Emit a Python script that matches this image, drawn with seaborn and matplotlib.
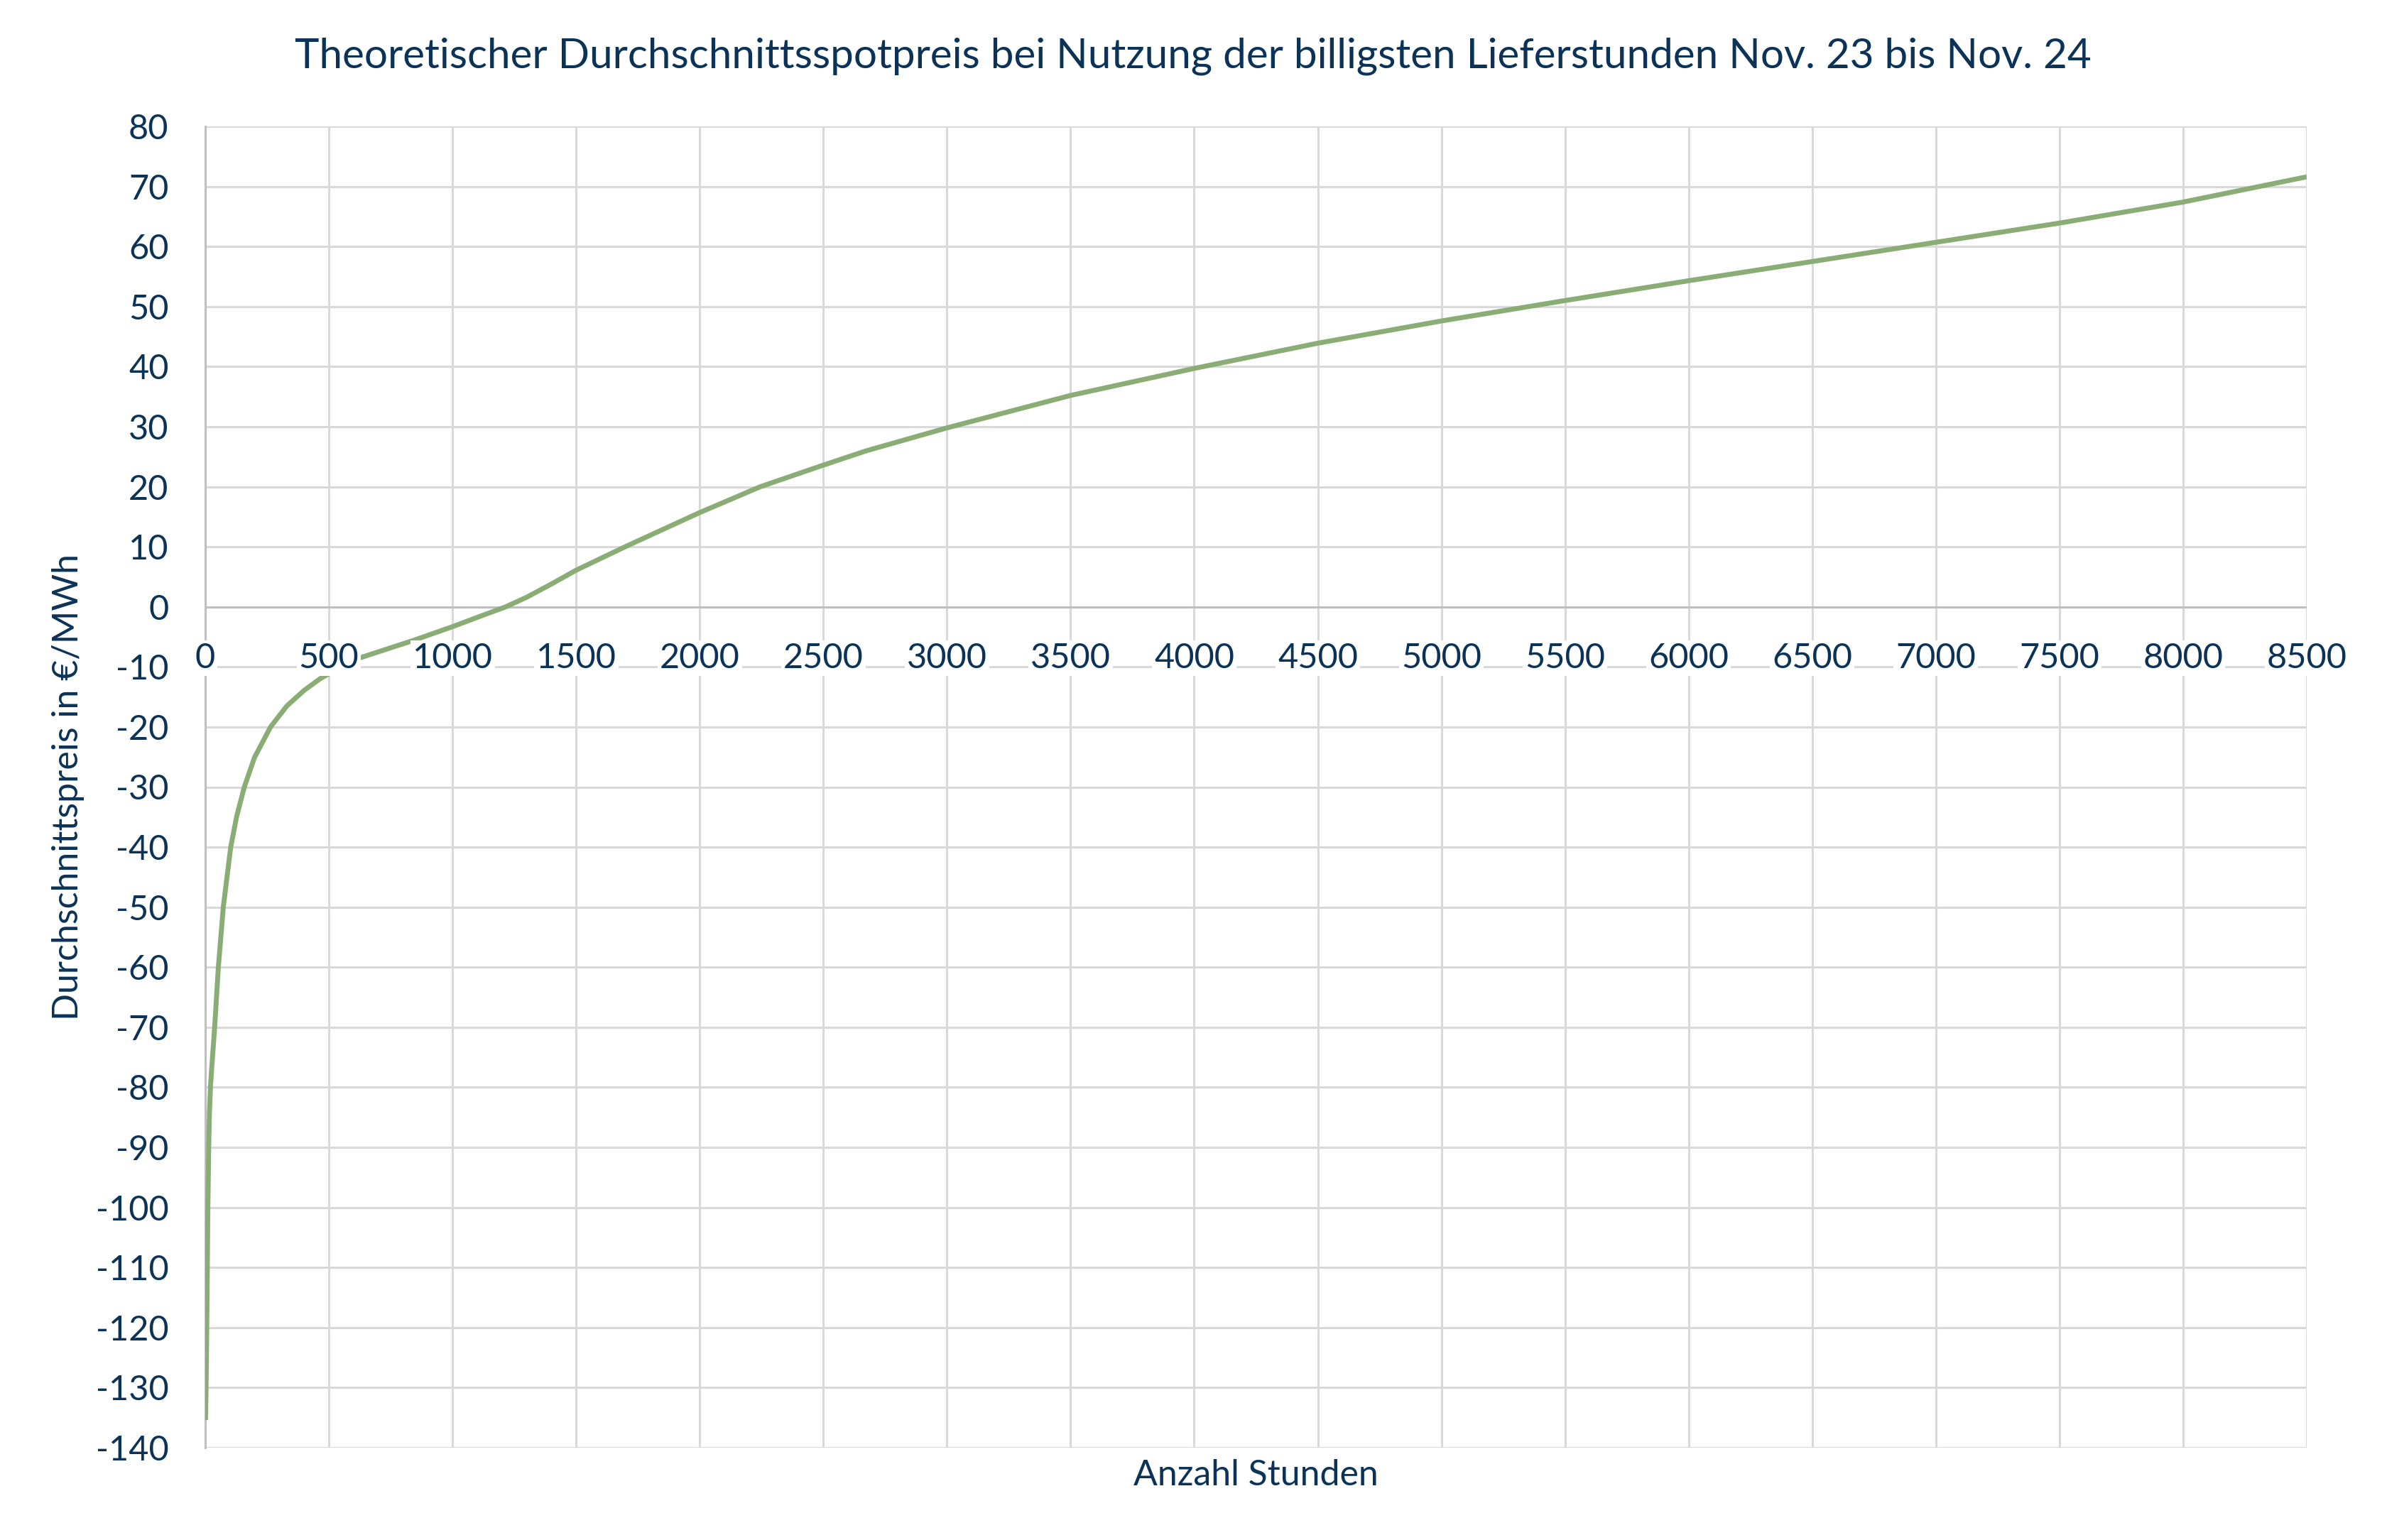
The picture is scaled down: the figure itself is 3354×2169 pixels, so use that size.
import pandas as pd
import matplotlib.pyplot as plt
from matplotlib import transforms
import seaborn as sns

# Werte (Stunden, Durchschnittspreis in EUR/MWh)
hours = [1, 3, 5, 8, 10, 14, 17, 21, 27, 38, 53, 73, 103, 127, 158, 199, 264,
         330, 400, 467, 550, 625, 841, 1000, 1110, 1215, 1300, 1400, 1500, 1698,
         2000, 2245, 2500, 2675, 3000, 3500, 4000, 4500, 5000, 5500, 6000, 6500,
         7000, 7500, 8000, 8500]
avg_price = [-135.4, -131.0, -124.0, -112.0, -102.0, -90.0, -84.2, -80.0, -76.3,
             -70.0, -60.0, -50.0, -40.0, -34.9, -30.0, -25.1, -20.0,
             -16.5, -13.9, -11.9, -10.0, -8.5, -5.6, -3.3, -1.6, 0.0, 1.6, 3.8, 6.1,
             10.0, 15.7, 20.0, 23.6, 26.0, 29.8, 35.2, 39.7, 43.9, 47.6, 51.0,
             54.3, 57.5, 60.7, 63.9, 67.4, 71.6]

x_ticks = list(range(0, 8501, 500))
y_ticks = list(range(-140, 81, 10))

title = "Theoretischer Durchschnittsspotpreis bei Nutzung der billigsten Lieferstunden Nov. 23 bis Nov. 24"
x_label = "Anzahl Stunden"
y_label = "Durchschnittspreis in €/MWh"

sns.set_theme(style="whitegrid")
plt.rcParams["font.family"] = ["Lato", "DejaVu Sans"]
plt.rcParams["axes.unicode_minus"] = False

text_color = "#0b3257"
grid_color = "#d9d9d9"
axis_color = "#bfbfbf"
line_color = "#8aad76"

df = pd.DataFrame({"Stunden": hours, "Preis": avg_price})

W, H = 3355, 2169
fig = plt.figure(figsize=(W / 100, H / 100), dpi=100)
fig.patch.set_facecolor("white")
left, right, top, bottom = 289, 3248, 178, 2039
ax = fig.add_axes([left / W, 1 - bottom / H, (right - left) / W, (bottom - top) / H])
ax.set_facecolor("white")

sns.lineplot(data=df, x="Stunden", y="Preis", ax=ax, color=line_color,
             linewidth=5, zorder=3, solid_joinstyle="round",
             solid_capstyle="butt")
ax.axhline(0, color=axis_color, linewidth=2.2, zorder=2)

ax.set_xlim(0, 8500)
ax.set_ylim(-140, 80)
ax.set_xticks(x_ticks)
ax.set_yticks(y_ticks)
ax.set_axisbelow(True)
ax.grid(True, color=grid_color, linewidth=2.2)
ax.set_xlabel("")
ax.set_ylabel("")

ax.tick_params(axis="x", labelbottom=False, length=0)
ax.tick_params(axis="y", labelsize=35, labelcolor=text_color, length=0, pad=37)

for s in ["top", "right", "bottom"]:
    ax.spines[s].set_visible(False)
ax.spines["left"].set_color(axis_color)
ax.spines["left"].set_linewidth(2.2)
ax.spines["left"].set_zorder(2)

# x-Beschriftungen sitzen an der Nulllinie, mit weissem Hintergrund
off = transforms.offset_copy(ax.transData, fig=fig, y=-72, units="dots")
for t in x_ticks:
    ax.text(t, 0, str(t), transform=off, ha="center", va="center", fontsize=35,
            color=text_color, zorder=5,
            bbox=dict(facecolor="white", edgecolor="none", pad=2))

fig.text(0.5007, 1 - 79 / H, title, ha="center", va="center", fontsize=42,
         color=text_color)
fig.text((left + right) / 2 / W, 1 - 2078 / H, x_label, ha="center", va="center",
         fontsize=36, color=text_color)
fig.text(96 / W, 1 - (top + bottom) / 2 / H, y_label, ha="center", va="center",
         rotation=90, fontsize=36, color=text_color)

fig.savefig("out.png", dpi=100, facecolor="white")
